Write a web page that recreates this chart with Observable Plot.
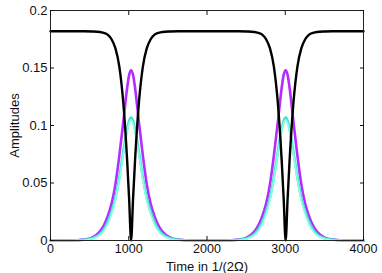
<!DOCTYPE html>
<html>
<head>
<meta charset="utf-8">
<script src="https://cdn.jsdelivr.net/npm/d3@7"></script>
<script src="https://cdn.jsdelivr.net/npm/@observablehq/plot@0.6"></script>
<style>
  html, body { margin: 0; padding: 0; background: #fff; }
  #chart svg { display: block; }
</style>
</head>
<body>
<div id="chart"></div>
<script>
const time = [
  0,
  230, 330, 430, 530, 630, 680, 730, 780, 830, 880, 930, 980, 1005, 1030, 1055, 1080, 1130, 1180, 1230, 1280, 1330, 1380, 1430, 1530, 1630, 1730, 1830,
  2000,
  2205, 2305, 2405, 2505, 2605, 2655, 2705, 2755, 2805, 2855, 2905, 2955, 2980, 3005, 3030, 3055, 3105, 3155, 3205, 3255, 3305, 3355, 3405, 3505, 3605, 3705, 3805,
  4000
];
const blackAmp = [
  0.182,
  0.182, 0.182, 0.182, 0.1818, 0.1813, 0.1805, 0.179, 0.175, 0.167, 0.151, 0.120, 0.069, 0.036, 0, 0.036, 0.069, 0.120, 0.151, 0.167, 0.175, 0.179, 0.1805, 0.1813, 0.1818, 0.182, 0.182, 0.182,
  0.182,
  0.182, 0.182, 0.182, 0.1818, 0.1813, 0.1805, 0.179, 0.175, 0.167, 0.151, 0.120, 0.069, 0.036, 0, 0.036, 0.069, 0.120, 0.151, 0.167, 0.175, 0.179, 0.1805, 0.1813, 0.1818, 0.182, 0.182, 0.182,
  0.182
];
const purpleAmp = [
  0,
  0, 0.0002, 0.0008, 0.0025, 0.0078, 0.013, 0.021, 0.032, 0.049, 0.074, 0.103, 0.133, 0.144, 0.148, 0.144, 0.133, 0.103, 0.074, 0.049, 0.032, 0.021, 0.013, 0.0078, 0.0025, 0.0008, 0.0002, 0,
  0,
  0, 0.0002, 0.0008, 0.0025, 0.0078, 0.013, 0.021, 0.032, 0.049, 0.074, 0.103, 0.133, 0.144, 0.148, 0.144, 0.133, 0.103, 0.074, 0.049, 0.032, 0.021, 0.013, 0.0078, 0.0025, 0.0008, 0.0002, 0,
  0
];
const turquoiseAmp = [
  0,
  0, 0.0002, 0.0006, 0.0018, 0.0055, 0.0095, 0.016, 0.025, 0.037, 0.055, 0.077, 0.097, 0.104, 0.107, 0.104, 0.097, 0.077, 0.055, 0.037, 0.025, 0.016, 0.0095, 0.0055, 0.0018, 0.0006, 0.0002, 0,
  0,
  0, 0.0002, 0.0006, 0.0018, 0.0055, 0.0095, 0.016, 0.025, 0.037, 0.055, 0.077, 0.097, 0.104, 0.107, 0.104, 0.097, 0.077, 0.055, 0.037, 0.025, 0.016, 0.0095, 0.0055, 0.0018, 0.0006, 0.0002, 0,
  0
];
const aquamarineAmp = [
  0,
  0, 0.0001, 0.0004, 0.0014, 0.0046, 0.0082, 0.014, 0.023, 0.035, 0.053, 0.075, 0.095, 0.102, 0.105, 0.102, 0.095, 0.075, 0.053, 0.035, 0.023, 0.014, 0.0082, 0.0046, 0.0014, 0.0004, 0.0001, 0,
  0,
  0, 0.0001, 0.0004, 0.0014, 0.0046, 0.0082, 0.014, 0.023, 0.035, 0.053, 0.075, 0.095, 0.102, 0.105, 0.102, 0.095, 0.075, 0.053, 0.035, 0.023, 0.014, 0.0082, 0.0046, 0.0014, 0.0004, 0.0001, 0,
  0
];
const xTicks = [0, 1000, 2000, 3000, 4000];
const xTickLabels = ["0", "1000", "2000", "3000", "4000"];
const yTicks = [0, 0.05, 0.1, 0.15, 0.2];
const yTickLabels = ["0", "0.05", "0.1", "0.15", "0.2"];
const xLabel = "Time in 1/(2Ω)";
const yLabel = "Amplitudes";

const rows = (vals) => time.map((t, i) => ({t, v: vals[i]}));

const chart = Plot.plot({
  width: 382,
  height: 273,
  marginLeft: 50,
  marginRight: 19,
  marginTop: 10,
  marginBottom: 33,
  style: {fontFamily: "'Liberation Sans', Arial, Helvetica, sans-serif", fontSize: "13px", color: "#111", background: "#fff"},
  x: {domain: [0, 4000]},
  y: {domain: [0, 0.2]},
  marks: [
    Plot.lineY(rows(purpleAmp), {x: "t", y: "v", stroke: "#b42cff", strokeWidth: 2.6, curve: "monotone-x"}),
    Plot.lineY(rows(turquoiseAmp), {x: "t", y: "v", stroke: "#40e0d0", strokeWidth: 2.6, curve: "monotone-x"}),
    Plot.lineY(rows(aquamarineAmp), {x: "t", y: "v", stroke: "#8dffe0", strokeWidth: 1.6, curve: "monotone-x"}),
    Plot.lineY(rows(blackAmp), {x: "t", y: "v", stroke: "#000", strokeWidth: 2.4, curve: "monotone-x"}),
    Plot.frame({stroke: "#222", strokeWidth: 1}),
    Plot.axisX(xTicks, {anchor: "bottom", tickSize: -4, tickPadding: 8, tickFormat: (d, i) => xTickLabels[i], label: null, fontSize: 12.5}),
    Plot.axisX({anchor: "bottom", ticks: [], label: xLabel, labelArrow: "none", labelAnchor: "center", labelOffset: 30, fontSize: 13}),
    Plot.axisX(xTicks, {anchor: "top", tickSize: -4, tickFormat: () => "", label: null}),
    Plot.axisY(yTicks, {anchor: "left", tickSize: -4, tickPadding: 7, tickFormat: (d, i) => yTickLabels[i], label: yLabel, labelArrow: "none", labelAnchor: "center", labelOffset: 41, fontSize: 13}),
    Plot.axisY(yTicks, {anchor: "right", tickSize: -4, tickFormat: () => "", label: null})
  ]
});
document.getElementById("chart").appendChild(chart);
</script>
</body>
</html>
